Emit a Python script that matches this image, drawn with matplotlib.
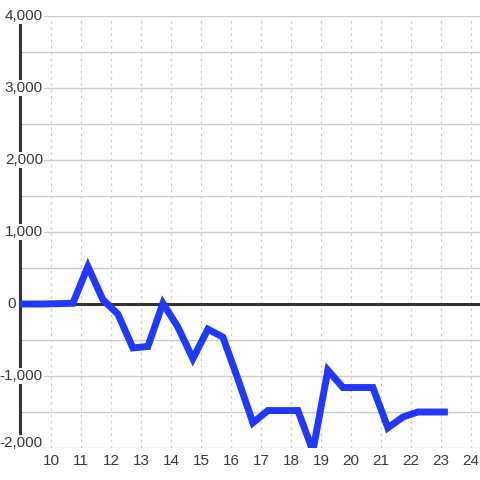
#!/usr/bin/python3

import matplotlib
matplotlib.use("Agg")
import matplotlib.pyplot as plt
import matplotlib.transforms as mtransforms

# hour of day (half hour steps) and running value
hours = [8.73, 9.23, 9.73, 10.23, 10.73, 11.23, 11.73, 12.23, 12.73, 13.23,
         13.73, 14.23, 14.73, 15.23, 15.73, 16.23, 16.73, 17.23, 17.73, 18.23,
         18.73, 19.23, 19.73, 20.23, 20.73, 21.23, 21.73, 22.23, 22.73, 23.23]
values = [0, 0, 0, 5, 10, 520, 60, -140, -610, -590,
          10, -320, -760, -350, -460, -1040, -1650, -1480, -1480, -1480,
          -2040, -920, -1160, -1160, -1160, -1720, -1570, -1500, -1500, -1500]

x_ticks = list(range(10, 25))
y_ticks = [-2000, -1000, 0, 1000, 2000, 3000, 4000]
y_grid = [-1500, -500, 500, 1500, 2500, 3500]

LINE_COLOR = "#2138ff"
TEXT_COLOR = "#3a3a3a"
GRID_COLOR = "#cccccc"


def fmt(v):
    return "{:,}".format(v)


def plot():
    plt.rcParams['font.family'] = ['Liberation Sans', 'DejaVu Sans']
    fig = plt.figure(figsize=(4.8, 4.8), dpi=100)
    ax = fig.add_axes([20 / 480, 32 / 480, 460 / 480, 432 / 480])

    ax.set_xlim(8.967, 24.3)
    ax.set_ylim(-2000, 4000)

    for s in ['top', 'right', 'bottom']:
        ax.spines[s].set_visible(False)
    ax.spines['left'].set_color('#333333')
    ax.spines['left'].set_linewidth(2.2)

    # grid
    for v in y_ticks + y_grid:
        if v == 0:
            continue
        ax.axhline(v, color=GRID_COLOR, lw=1.0, zorder=1)
    for v in x_ticks:
        ax.axvline(v, color=GRID_COLOR, lw=0.9, linestyle=(0, (2, 3)), zorder=1)
    ax.axhline(0, color='#333333', lw=2.2, zorder=2)

    ax.plot(hours, values, color=LINE_COLOR, lw=5, zorder=4,
            solid_joinstyle='miter', solid_capstyle='butt')

    ax.set_xticks(x_ticks)
    ax.set_xticklabels([str(v) for v in x_ticks])
    ax.set_yticks([])
    ax.tick_params(axis='x', length=0, pad=4.5, labelsize=11, colors=TEXT_COLOR)

    # y labels sit over the axis line with a white background
    trans = mtransforms.blended_transform_factory(fig.transFigure, ax.transData)
    for v in y_ticks:
        xr = 16 / 480 if v == 0 else 43 / 480
        t = ax.text(xr, v, fmt(v), transform=trans, ha='right', va='center',
                    fontsize=11, color=TEXT_COLOR, zorder=6, clip_on=False,
                    bbox=dict(facecolor='white', edgecolor='none', pad=1.0))
        if v == y_ticks[0]:
            # bottom label is nudged up a little
            t.set_transform(trans + mtransforms.ScaledTranslation(0, 5 / 100, fig.dpi_scale_trans))

    fig.savefig("out.png", dpi=100)
    plt.close(fig)


def main():
    plot()


if __name__ == '__main__':
    main()
